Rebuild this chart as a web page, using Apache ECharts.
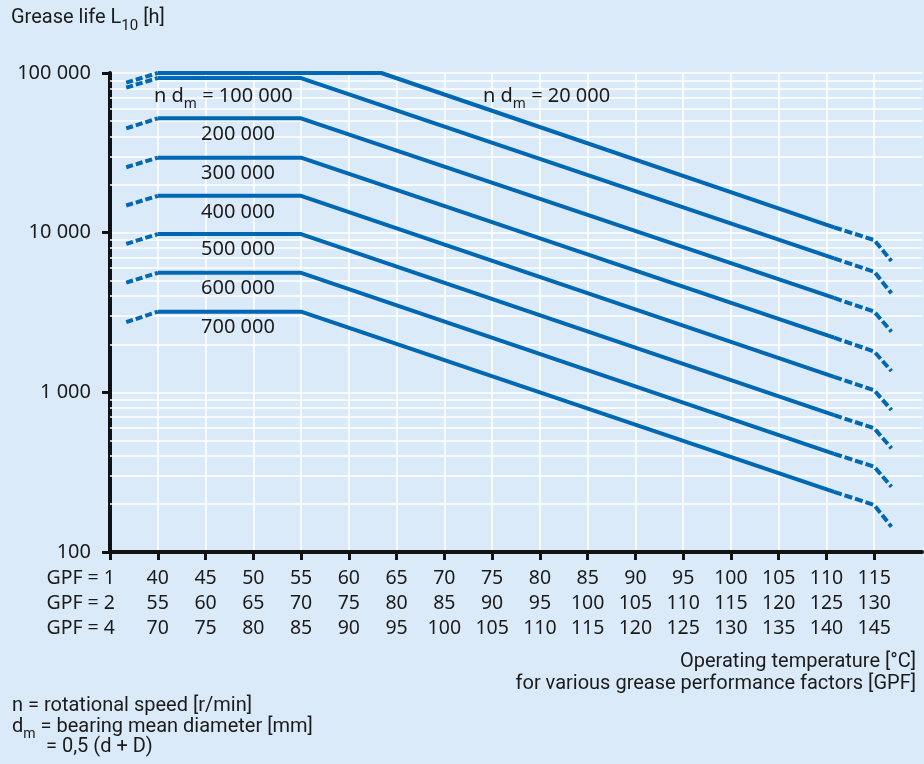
<!DOCTYPE html>
<html>
<head>
<meta charset="utf-8">
<script src="https://cdn.jsdelivr.net/npm/echarts@6/dist/echarts.min.js"></script>
<style>
html,body{margin:0;padding:0;background:#dbeaf8;}
#chart{width:924px;height:764px;}
</style>
</head>
<body>
<div id="chart"></div>
<script>
// ---- data ----
const speedLabels = ['20 000', '100 000', '200 000', '300 000', '400 000', '500 000', '600 000', '700 000'];
// temperatures (GPF = 1 scale, °C) of the curve break points
const tempDashStart = 36.7;
const tempFlatStart = 40;
const kneeTemps = [63.4, 55, 55, 55, 55, 55, 55, 55];
const tempSolidEnd = 110.8;
const tempDashKnee = 115;
const tempDashEnd = 116.8;
// grease life values [h]
const startLife = [87000, 81000, 45000, 25700, 14800, 8500, 4870, 2750];
const flatLife = [100000, 93000, 52000, 29500, 17000, 9800, 5600, 3200];
const solidEndLife = [10800, 6900, 3900, 2200, 1250, 720, 412, 238];
const kneeLife = [8990, 5690, 3200, 1800, 1030, 595, 342, 197];
const endLife = [6640, 4170, 2400, 1360, 775, 446, 256, 144];
// x tick labels (three GPF rows)
const xTicks = [40, 45, 50, 55, 60, 65, 70, 75, 80, 85, 90, 95, 100, 105, 110, 115];
const gpf1Labels = ['40','45','50','55','60','65','70','75','80','85','90','95','100','105','110','115'];
const gpf2Labels = ['55','60','65','70','75','80','85','90','95','100','105','110','115','120','125','130'];
const gpf4Labels = ['70','75','80','85','90','95','100','105','110','115','120','125','130','135','140','145'];
const gpfRowLabels = ['GPF = 1', 'GPF = 2', 'GPF = 4'];
const yTickLabels = {100: '100', 1000: '1 000', 10000: '10 000', 100000: '100 000'};
const minorGridValues = [200,300,400,500,600,700,800,900,2000,3000,4000,5000,6000,7000,8000,9000,20000,30000,40000,50000,60000,70000,80000,90000];

// ---- style ----
const BLUE = '#0067b2';
const BG = '#dbeaf8';
const INK = '#1b1b1b';
const NUMFONT = '"Noto Sans", sans-serif';
const TXTFONT = 'Roboto, "Noto Sans", sans-serif';

const chart = echarts.init(document.getElementById('chart'), null, {renderer: 'canvas'});

const series = [];
// minor log grid lines
series.push({
  type: 'line', data: [], silent: true, z: 1,
  markLine: {
    silent: true, symbol: ['none', 'none'], z: 1, animation: false,
    label: {show: false},
    lineStyle: {color: '#ffffff', width: 1.6, type: 'solid'},
    data: minorGridValues.map(v => ({yAxis: v}))
  }
});
const lineBase = {
  type: 'line', symbol: 'none', showSymbol: false, silent: true, z: 3,
  animation: false
};
for (let i = 0; i < speedLabels.length; i++) {
  series.push(Object.assign({}, lineBase, {
    name: 'solid ' + speedLabels[i],
    lineStyle: {color: BLUE, width: 4, cap: 'butt', join: 'round'},
    data: [[tempFlatStart, flatLife[i]], [kneeTemps[i], flatLife[i]], [tempSolidEnd, solidEndLife[i]]]
  }));
  series.push(Object.assign({}, lineBase, {
    name: 'left ' + speedLabels[i],
    lineStyle: {color: BLUE, width: 4, cap: 'butt', type: [7, 3]},
    data: [[tempDashStart, startLife[i]], [tempFlatStart, flatLife[i]]]
  }));
  series.push(Object.assign({}, lineBase, {
    name: 'right ' + speedLabels[i],
    lineStyle: {color: BLUE, width: 4, cap: 'butt', join: 'round', type: [8, 3]},
    data: [[tempSolidEnd, solidEndLife[i]], [tempDashKnee, kneeLife[i]], [tempDashEnd, endLife[i]]]
  }));
}

function subText(x, y, parts) {
  return {
    type: 'text', x: x, y: y, silent: true, z: 100,
    style: {
      text: parts,
      fill: INK,
      fontFamily: NUMFONT,
      fontSize: 20,
      align: 'left',
      verticalAlign: 'middle',
      rich: {
        t: {fontSize: 20, fontFamily: NUMFONT, fill: INK, lineHeight: 20, verticalAlign: 'top'},
        s: {fontSize: 14, fontFamily: NUMFONT, fill: INK, lineHeight: 12, verticalAlign: 'top', padding: [11, 0, 0, 0]}
      }
    }
  };
}
function plainText(x, y, text, font, size, align) {
  return {
    type: 'text', x: x, y: y, silent: true, z: 100,
    style: {text: text, fill: INK, fontFamily: font, fontSize: size, align: align, verticalAlign: 'middle'}
  };
}

const graphics = [];
// title
graphics.push({
  type: 'text', x: 11, y: 19, silent: true, z: 100,
  style: {
    text: '{t|Grease life L}{s|10}{t| [h]}',
    fill: INK, verticalAlign: 'middle', align: 'left',
    rich: {
      t: {fontSize: 20, fontFamily: TXTFONT, fill: INK, lineHeight: 22, verticalAlign: 'top'},
      s: {fontSize: 15, fontFamily: TXTFONT, fill: INK, lineHeight: 14, verticalAlign: 'top', padding: [11, 0, 0, 0]}
    }
  }
});
// curve labels
graphics.push(subText(154, 96, '{t|n d}{s|m}{t| = ' + speedLabels[1] + '}'));
graphics.push(subText(483, 96, '{t|n d}{s|m}{t| = ' + speedLabels[0] + '}'));
const labelYs = [134, 173, 212, 249, 288, 327];
for (let k = 0; k < labelYs.length; k++) {
  graphics.push(plainText(201, labelYs[k], speedLabels[k + 2], NUMFONT, 20, 'left'));
}
// GPF row labels
for (let r = 0; r < 3; r++) {
  graphics.push(plainText(115, 578.5 + r * 25, gpfRowLabels[r], NUMFONT, 19.5, 'right'));
}
// axis title
graphics.push(plainText(916, 662, 'Operating temperature [°C]', TXTFONT, 20, 'right'));
graphics.push(plainText(916, 684, 'for various grease performance factors [GPF]', TXTFONT, 20, 'right'));
// notes
graphics.push(plainText(12, 706, 'n = rotational speed [r/min]', TXTFONT, 20, 'left'));
graphics.push({
  type: 'text', x: 12, y: 727, silent: true, z: 100,
  style: {
    text: '{t|d}{s|m}{t| = bearing mean diameter [mm]}',
    fill: INK, align: 'left', verticalAlign: 'middle',
    rich: {
      t: {fontSize: 20, fontFamily: TXTFONT, fill: INK, lineHeight: 20, verticalAlign: 'top'},
      s: {fontSize: 14, fontFamily: TXTFONT, fill: INK, lineHeight: 12, verticalAlign: 'top', padding: [10, 0, 0, 0]}
    }
  }
});
graphics.push(plainText(46, 747, '= 0,5 (d + D)', TXTFONT, 20, 'left'));

const option = {
  backgroundColor: BG,
  animation: false,
  grid: {left: 110, right: 2, top: 73, bottom: 212, containLabel: false},
  xAxis: {
    type: 'value', min: 35, max: 120, interval: 5,
    axisLine: {show: true, lineStyle: {color: '#111', width: 4}},
    axisTick: {show: true, length: 8, lineStyle: {color: '#111', width: 3},
      customValues: [35].concat(xTicks)},
    splitLine: {show: true, lineStyle: {color: '#ffffff', width: 1.6}},
    axisLabel: {
      customValues: xTicks,
      margin: 14,
      color: INK, fontFamily: NUMFONT, fontSize: 19.5, lineHeight: 25,
      formatter: function (v) {
        const i = xTicks.indexOf(v);
        if (i < 0) return '';
        return gpf1Labels[i] + '\n' + gpf2Labels[i] + '\n' + gpf4Labels[i];
      }
    }
  },
  yAxis: {
    type: 'log', logBase: 10, min: 100, max: 100000,
    axisLine: {show: true, lineStyle: {color: '#111', width: 4}},
    axisTick: {show: true, length: 8, lineStyle: {color: '#111', width: 3}},
    splitLine: {show: true, lineStyle: {color: '#ffffff', width: 1.6}},
    axisLabel: {
      margin: 19, color: INK, fontFamily: NUMFONT, fontSize: 20,
      formatter: function (v) { return yTickLabels[Math.round(v)] || ''; }
    }
  },
  series: series,
  graphic: {elements: graphics}
};
chart.setOption(option);
</script>
</body>
</html>
